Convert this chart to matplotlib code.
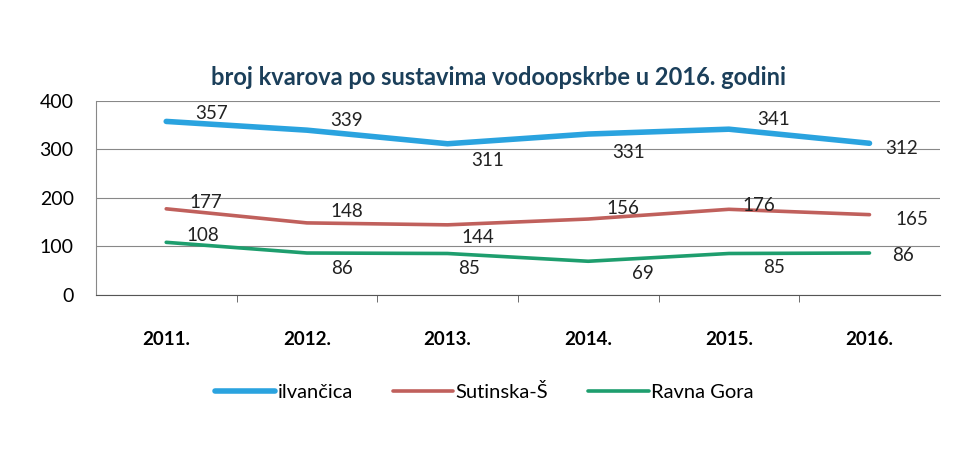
import numpy as np
import matplotlib.pyplot as plt

# podaci
godine = ['2011.', '2012.', '2013.', '2014.', '2015.', '2016.']
ilvancica = [357, 339, 311, 331, 341, 312]
sutinska = [177, 148, 144, 156, 176, 165]
ravna_gora = [108, 86, 85, 69, 85, 86]

plt.rcParams['font.family'] = ['Lato', 'DejaVu Sans']

fig = plt.figure(figsize=(9.59, 4.57), dpi=100)
ax = fig.add_axes([0.10, 0.355, 0.88, 0.425])

x = np.arange(len(godine))
serije = [
    (ilvancica, 'ilvančica', '#2AA3DF', 4.0, [(45, 8), (40, 10), (40, -17), (40, -18), (45, 10), (32, -5)]),
    (sutinska, 'Sutinska-Š', '#C0605C', 2.6, [(40, 6), (40, 11), (30, -13), (35, 11), (30, 4), (42, -5)]),
    (ravna_gora, 'Ravna Gora', '#1E9E6E', 2.6, [(37, 7), (35, -15), (22, -15), (55, -12), (45, -14), (34, -2)]),
]

for vals, ime, boja, lw, pomaci in serije:
    ax.plot(x, vals, color=boja, lw=lw, label=ime, solid_capstyle='round')
    for xi, v, (dx, dy) in zip(x, vals, pomaci):
        ax.annotate(str(v), (xi, v), xytext=(dx, dy), textcoords='offset pixels',
                    ha='center', va='center', fontsize=13.5, color='#222222')

ax.set_xlim(-0.5, 5.5)
ax.set_ylim(0, 400)
ax.set_yticks([0, 100, 200, 300, 400])
ax.grid(axis='y', color='#888888', lw=0.8)
ax.set_axisbelow(True)
ax.set_xticks(x)
ax.set_xticklabels(godine, fontsize=13.5, fontweight='bold')
ax.tick_params(axis='x', length=0, pad=26)
ax.set_xticks(np.arange(0.5, 5.5, 1), minor=True)
ax.tick_params(axis='x', which='minor', length=5, color='#555555')
ax.tick_params(axis='y', length=0, pad=16, labelsize=14)
for s in ['top', 'right']:
    ax.spines[s].set_visible(False)
ax.spines['left'].set_color('#888888')
ax.spines['bottom'].set_color('#555555')

fig.text(0.52, 0.83, 'broj kvarova po sustavima vodoopskrbe u 2016. godini',
         ha='center', va='center', fontsize=17, fontweight='bold', color='#1B3F5A')

ax.legend(loc='upper center', bbox_to_anchor=(0.46, -0.36), ncol=3, frameon=False,
          fontsize=14.5, handlelength=3.0, handletextpad=0.1, columnspacing=2.0)

fig.savefig('out.png', dpi=100)
